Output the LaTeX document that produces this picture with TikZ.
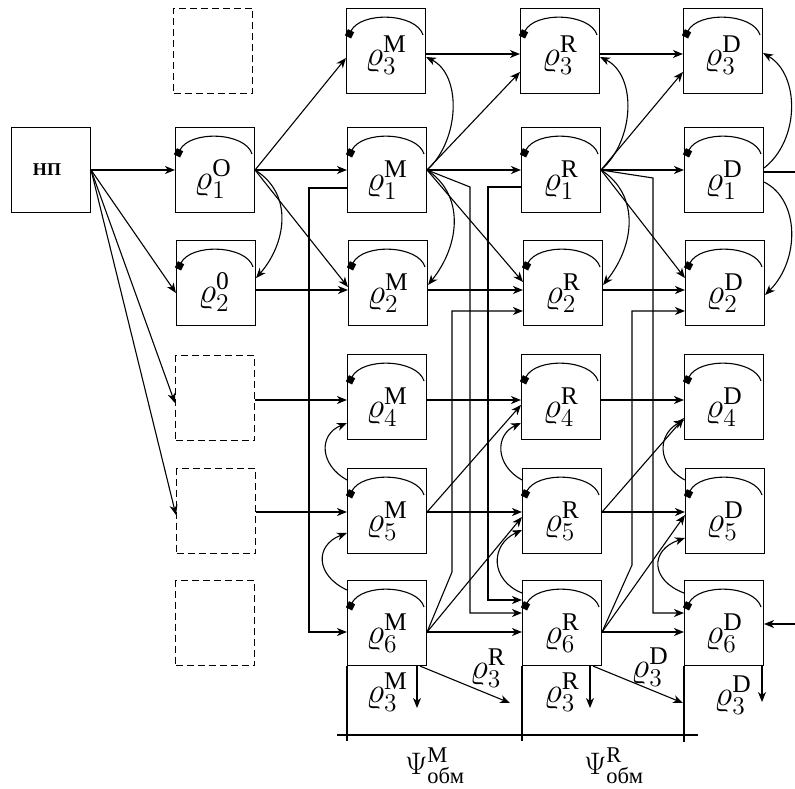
\RequirePackage{fix-cm}
\documentclass[tikz,border=0pt]{standalone}
\usepackage{amsmath}
\usepackage{graphicx}
\usepackage{fontspec}
\setmainfont{Liberation Serif}
\usetikzlibrary{arrows.meta}
\DeclareMathSizes{20.74}{20.74}{15}{11}
\newcommand{\rl}[2]{\scalebox{1.7}{$\varrho^{\mathrm{#2}}_{#1}$}}
\newcommand{\psil}[1]{\scalebox{1.5}{$\Psi^{\mathrm{#1}}_{\text{обм}}$}}
\begin{document}
\begin{tikzpicture}[x=1pt,y=-1pt,
  box/.style={draw,line width=1.1pt,minimum width=79pt,minimum height=85pt,inner sep=0pt},
  dbox/.style={box,dash pattern=on 7pt off 4pt},
  lab/.style={font=\fontsize{20.74}{24}\selectfont,inner sep=0pt},
  arr/.style={line width=1.1pt,-{Stealth[length=10pt,width=8pt,inset=3pt]}},
  wire/.style={line width=1.1pt},
  arcst/.style={line width=1.1pt,-{Square[length=7pt,width=7pt]}}]
\useasboundingbox (0,0) rectangle (795,789);
% boxes
\node[box] (NP) at (51,170) {};
\node[font=\fontsize{18}{20}\selectfont\bfseries,inner sep=0pt] (NPt) at ([xshift=-4pt]NP.center) {НП};
\node[dbox] (X3) at (213,51) {};
\node[box] (O1) at (215,170) {};
\node[box] (O2) at (216,283) {};
\node[dbox] (X4) at (215,398) {};
\node[dbox] (X5) at (216,511) {};
\node[dbox] (X6) at (215,623) {};
\node[box] (M3) at (386,51) {};
\node[box] (M1) at (387,170) {};
\node[box] (M2) at (388,283) {};
\node[box] (M4) at (387,397) {};
\node[box] (M5) at (387,511) {};
\node[box] (M6) at (387,623) {};
\node[box] (R3) at (560,51) {};
\node[box] (R1) at (561,170) {};
\node[box] (R2) at (563,283) {};
\node[box] (R4) at (561,397) {};
\node[box] (R5) at (562,511) {};
\node[box] (R6) at (562,623) {};
\node[box] (D3) at (723,51) {};
\node[box] (D1) at (724,170) {};
\node[box] (D2) at (725,283) {};
\node[box] (D4) at (724,397) {};
\node[box] (D5) at (725,511) {};
\node[box] (D6) at (724,623) {};
% labels in boxes
\node[lab] (O1t) at ([xshift=-2pt,yshift=-9pt]O1.center) {\rl{1}{O}};
\node[lab] (O2t) at ([xshift=-2pt,yshift=-9pt]O2.center) {\rl{2}{0}};
\foreach \c/\s in {M/M,R/R,D/D}{
  \node[lab] (\c3t) at ([yshift=-4pt]\c3.center) {\rl{3}{\s}};
  \foreach \r in {1,2,4,5,6}{
    \node[lab] (\c\r t) at ([yshift=-10pt]\c\r.center) {\rl{\r}{\s}};
  }
}
% inner arcs
\foreach \n in {O1,O2,M3,M1,M2,M4,M5,M6,R3,R1,R2,R4,R5,R6,D3,D1,D2,D4,D5,D6}{
  \draw[arcst] ([xshift=-3pt,yshift=-27pt]\n.north east) .. controls ([xshift=-10pt,yshift=-5pt]\n.north east) and ([xshift=15pt,yshift=-3pt]\n.north west) .. ([xshift=2pt,yshift=-29pt]\n.north west);
}
% from NP
\draw[arr] (NP.east) -- (O1.west);
\draw[arr] (NP.east) -- (O2.west |- 0,293);
\draw[arr] (NP.east) -- (X4.west |- 0,403);
\draw[arr] (NP.east) -- (X5.west |- 0,515);
% column O
\draw[arr] (O1.east) -- (M3.west |- 0,58);
\draw[arr] (O1.east) -- (M1.west);
\draw[arr] (O1.east) -- (M2.west |- 0,287);
\draw[arr] (O1.east) .. controls (295,195) and (285,245) .. (O2.east |- 0,278);
\draw[arr] (O2.east |- 0,290) -- (M2.west |- 0,290);
\draw[arr] (X4.east |- 0,400) -- (M4.west |- 0,400);
\draw[arr] (X5.east |- 0,512) -- (M5.west |- 0,512);
% column M
\draw[arr] (M3.east |- 0,54) -- (R3.west |- 0,54);
\draw[arr] (M1.east) -- (R1.west);
\draw[arr] (M1.east) -- (R3.west |- 0,72);
\draw[arr] (M1.east) -- (R2.west |- 0,282);
\draw[arr] (M1.east) -- (470,187) -- (470,613) -- (R6.west |- 0,613);
\draw[arr] (M1.east) .. controls (460,140) and (462,75) .. (M3.east |- 0,57);
\draw[arr] (M1.east) .. controls (465,195) and (460,245) .. (M2.east |- 0,285);
\draw[arr] (M2.east |- 0,290) -- (R2.west |- 0,290);
\draw[arr] (M4.east |- 0,400) -- (R4.west |- 0,400);
\draw[arr] (M5.east |- 0,512) -- (R5.west |- 0,512);
\draw[arr] (M5.east |- 0,512) -- (R4.west |- 0,405);
\draw[arr] (M6.east |- 0,632) -- (R6.west |- 0,632);
\draw[arr] (M6.east |- 0,632) -- (R5.west |- 0,517);
\draw[arr] (M6.east |- 0,632) -- (452,572) -- (452,311) -- (R2.west |- 0,311);
\draw[arr] (M1.west |- 0,188) -- (309,188) -- (309,632) -- (M6.west |- 0,632);
\draw[arr] (R1.west |- 0,187) -- (488,187) -- (488,600) -- (R6.west |- 0,600);
\draw[arr] (M5.west |- 0,480) .. controls (320,465) and (318,435) .. (M4.west |- 0,423);
\draw[arr] (M6.west |- 0,590) .. controls (315,575) and (315,545) .. (M5.west |- 0,533);
% column R
\draw[arr] (R3.east |- 0,54) -- (D3.west |- 0,54);
\draw[arr] (R1.east) -- (D1.west);
\draw[arr] (R1.east) -- (D3.west |- 0,72);
\draw[arr] (R1.east) -- (D2.west |- 0,278);
\draw[arr] (R1.east) -- (653,178) -- (653,613) -- (D6.west |- 0,613);
\draw[arr] (R1.east) .. controls (635,140) and (637,75) .. (R3.east |- 0,57);
\draw[arr] (R1.east) .. controls (640,195) and (635,245) .. (R2.east |- 0,285);
\draw[arr] (R2.east |- 0,290) -- (D2.west |- 0,290);
\draw[arr] (R4.east |- 0,400) -- (D4.west |- 0,400);
\draw[arr] (R5.east |- 0,512) -- (D5.west |- 0,512);
\draw[arr] (R5.east |- 0,512) -- (D4.west |- 0,418);
\draw[arr] (R6.east |- 0,632) -- (D6.west |- 0,632);
\draw[arr] (R6.east |- 0,632) -- (D5.west |- 0,515);
\draw[arr] (R6.east |- 0,632) -- (632,565) -- (632,311) -- (D2.west |- 0,311);
\draw[arr] (R5.west |- 0,480) .. controls (495,465) and (495,435) .. (R4.west |- 0,423);
\draw[arr] (R6.west |- 0,593) .. controls (490,580) and (490,545) .. (R5.west |- 0,530);
% column D
\coordinate (Dout) at (795,172);
\coordinate (Din) at (795,624);
\draw[wire] (D1.east |- 0,172) -- (Dout);
\draw[arr] (Din) -- (D6.east |- 0,624);
\draw[arr] (D1.east |- 0,168) .. controls (800,140) and (800,75) .. (D3.east |- 0,53);
\draw[arr] (D1.east |- 0,182) .. controls (800,200) and (800,260) .. (D2.east |- 0,295);
\draw[arr] (D5.west |- 0,480) .. controls (657,465) and (657,435) .. (D4.west |- 0,420);
\draw[arr] (D6.west |- 0,593) .. controls (650,580) and (650,550) .. (D5.west |- 0,538);
% bottom
\coordinate (e1) at (417,708);
\coordinate (e2) at (510,703);
\coordinate (e3) at (590,708);
\coordinate (e4) at (683,703);
\coordinate (e5) at (762,702);
\draw[arr] (M6.south -| 417,0) -- (e1);
\draw[arr] (M6.south -| 420,0) -- (e2);
\draw[arr] (R6.south -| 590,0) -- (e3);
\draw[arr] (R6.south -| 593,0) -- (e4);
\draw[arr] (D6.south -| 762,0) -- (e5);
\draw[wire] (M6.south west) -- (M6.south west |- 0,741);
\draw[wire] (R6.south west) -- (R6.south west |- 0,741);
\draw[wire] (D6.south west) -- (D6.south west |- 0,742);
\coordinate (h1) at (337,735);
\coordinate (h2) at (698,735);
\draw[wire] (h1) -- (h2);
\node[lab] (b1) at (387,692) {\rl{3}{M}};
\node[lab] (b2) at (488,668) {\rl{3}{R}};
\node[lab] (b3) at (562,692) {\rl{3}{R}};
\node[lab] (b4) at (650,667) {\rl{3}{D}};
\node[lab] (b5) at (733,695) {\rl{3}{D}};
\node[lab] (P1) at (435,766) {\psil{M}};
\node[lab] (P2) at (614,766) {\psil{R}};
\end{tikzpicture}
\end{document}
